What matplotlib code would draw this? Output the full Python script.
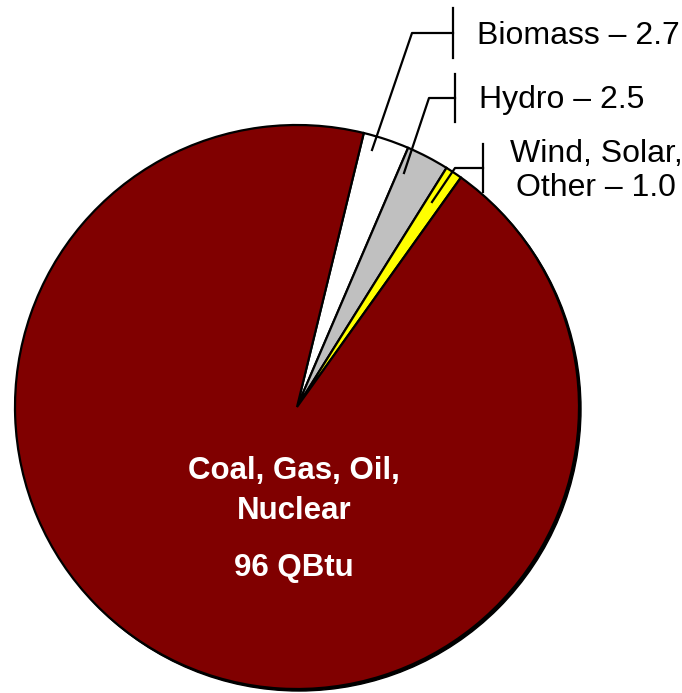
import matplotlib.pyplot as plt
from matplotlib.patches import Circle

plt.rcParams['font.family'] = ['Liberation Sans', 'DejaVu Sans']

# Data (QBtu)
labels = ["Biomass", "Hydro", "Wind, Solar, Other", "Coal, Gas, Oil, Nuclear"]
values = [2.7, 2.5, 1.0, 96]
colors = ["#FFFFFF", "#C0C0C0", "#FFFF00", "#800000"]
label_texts = ["Biomass – 2.7", "Hydro – 2.5", "Wind, Solar,\nOther – 1.0"]

W, H = 682, 693
fig = plt.figure(figsize=(W / 100, H / 100), dpi=100)
ax = fig.add_axes([0, 0, 1, 1])

def Y(y):
    # pixel row -> data y
    return H - y

cx, cy, r = 297, 407, 282

# soft shadow on lower right, as in the original
ax.add_patch(Circle((cx + 2, Y(cy + 2)), r, color='black', zorder=0))

ax.pie(values, colors=colors, startangle=76.3, counterclock=False,
       center=(cx, Y(cy)), radius=r, frame=True,
       wedgeprops=dict(edgecolor='black', linewidth=1.6))
ax.set_xlim(0, W)
ax.set_ylim(0, H)
ax.set_aspect('equal')
ax.axis('off')

# Leader lines: (start in slice, elbow, bracket x, bracket half-height)
leaders = [
    ((372, 150), (412, 33), 453, 25),
    ((404, 173), (429, 98), 455, 24),
    ((432, 202), (455, 168), 483, 24),
]
for (p0, p1, bx, hh) in leaders:
    ax.plot([p0[0], p1[0], bx], [Y(p0[1]), Y(p1[1]), Y(p1[1])], color='black', lw=1.6)
    ax.plot([bx, bx], [Y(p1[1] - hh), Y(p1[1] + hh)], color='black', lw=1.6)

fs = 23
ax.text(477, Y(36), label_texts[0], fontsize=fs, ha='left', va='center')
ax.text(479, Y(100), label_texts[1], fontsize=fs, ha='left', va='center')
ax.text(596, Y(171), label_texts[2], fontsize=fs, ha='center', va='center',
        linespacing=1.2)

ax.text(294, Y(491), "Coal, Gas, Oil,\nNuclear", fontsize=22.5, fontweight='bold',
        color='white', ha='center', va='center', linespacing=1.45)
ax.text(294, Y(568), "96 QBtu", fontsize=22.5, fontweight='bold',
        color='white', ha='center', va='center')

fig.savefig("out.png", dpi=100)
